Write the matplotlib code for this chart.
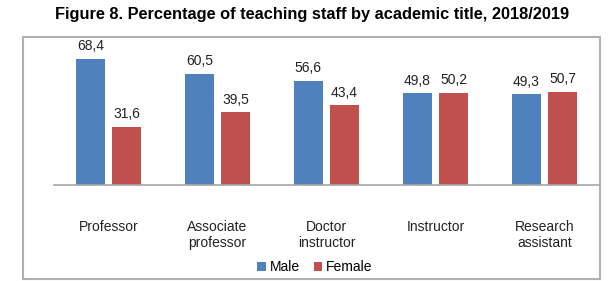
import matplotlib.pyplot as plt
import numpy as np
from matplotlib.patches import Rectangle

plt.rcParams['font.family'] = ['Liberation Sans', 'DejaVu Sans']

# Datos del grafico
categorias = ['Professor', 'Associate\nprofessor', 'Doctor\ninstructor', 'Instructor', 'Research\nassistant']
hombres = [68.4, 60.5, 56.6, 49.8, 49.3]
mujeres = [31.6, 39.5, 43.4, 50.2, 50.7]

W, H = 609, 281
fig = plt.figure(figsize=(W / 100, H / 100), dpi=100)

# Marco del area del grafico
fig.patches.append(Rectangle((23 / W, 1 - 279 / H), 577 / W, 242 / H,
                             transform=fig.transFigure, fill=False,
                             edgecolor='#b0b0b0', linewidth=1.5))

fig.text(312 / W, 1 - 15 / H, 'Figure 8. Percentage of teaching staff by academic title, 2018/2019',
         ha='center', va='center', fontsize=11.8, fontweight='bold')

# Ejes: base en y=185 px, 1 unidad = 1.842 px
y_max = 80
alto = y_max * 1.842
ax = fig.add_axes([54 / W, 1 - 185 / H, 545 / W, alto / H])

x = np.arange(len(categorias))
ancho = 0.263
desp = 0.166
b1 = ax.bar(x - desp, hombres, ancho, color='#4F81BD', label='Male')
b2 = ax.bar(x + desp, mujeres, ancho, color='#C0504D', label='Female')

for barras in (b1, b2):
    for b in barras:
        v = b.get_height()
        ax.text(b.get_x() + b.get_width() / 2, v + 3, f'{v:.1f}'.replace('.', ','),
                ha='center', va='bottom', fontsize=10, color='#222222')

ax.set_xlim(-0.5, len(categorias) - 0.5)
ax.set_ylim(0, y_max)
ax.set_yticks([])
ax.set_xticks(x)
ax.set_xticklabels(categorias, fontsize=10, color='#222222', va='top', linespacing=1.25)
ax.tick_params(axis='x', length=0, pad=25)
for s in ('top', 'right', 'left'):
    ax.spines[s].set_visible(False)
ax.spines['bottom'].set_color('#a6a6a6')
ax.spines['bottom'].set_linewidth(1.2)

fig.legend(loc='center', bbox_to_anchor=(315 / W, 1 - 267 / H), ncol=2, frameon=False,
           fontsize=10, handlelength=0.6, handleheight=0.6, handletextpad=0.3,
           columnspacing=1.0)

fig.savefig('out.png', dpi=100)
